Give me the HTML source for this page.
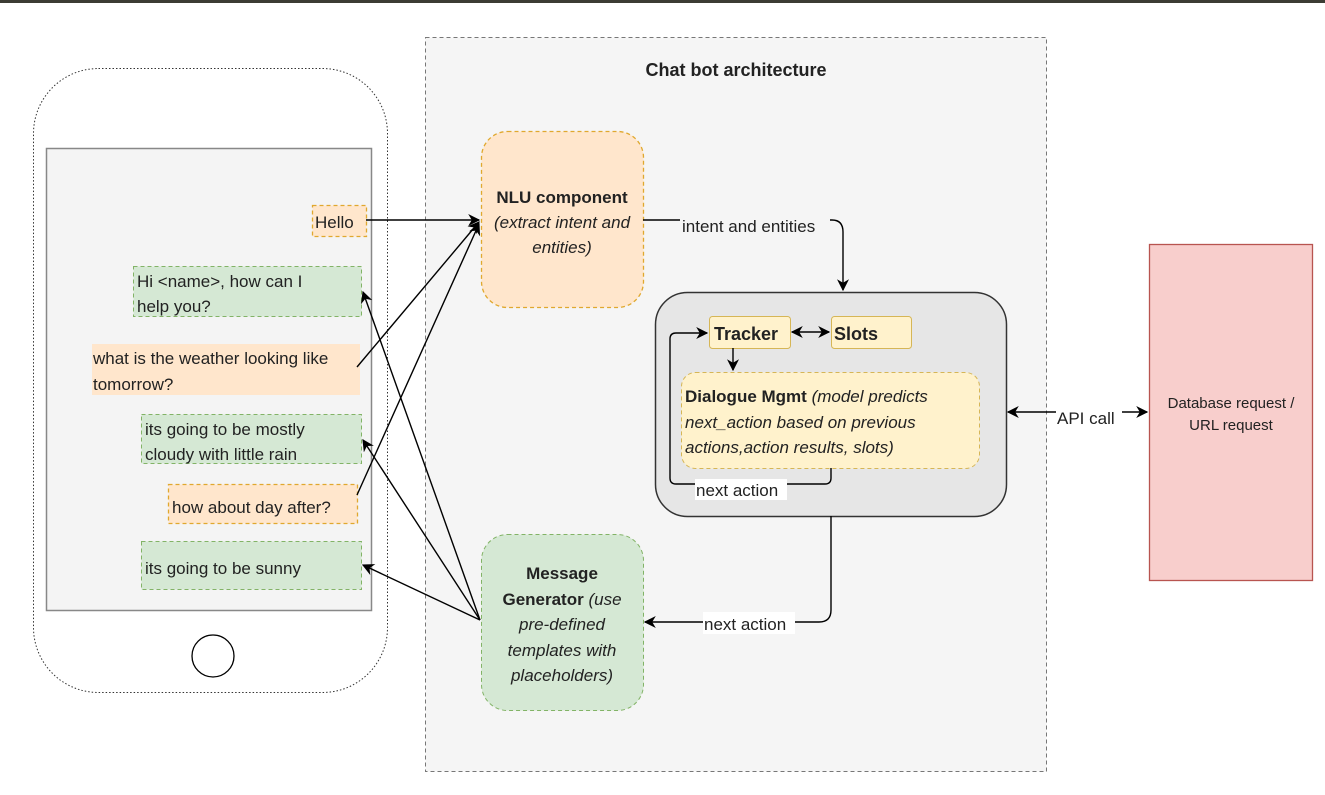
<!DOCTYPE html>
<html><head><meta charset="utf-8"><style>
html,body{margin:0;padding:0;background:#fff}
svg{display:block}
text{font-family:"Liberation Sans",sans-serif;fill:#222}
</style></head><body>
<svg width="1325" height="795" viewBox="0 0 1325 795" xmlns="http://www.w3.org/2000/svg">
<defs>
<marker id="a" viewBox="0 0 10 10" refX="9" refY="5" markerWidth="12" markerHeight="12" orient="auto-start-reverse" markerUnits="userSpaceOnUse"><path d="M0,0 L10,5 L0,10 L3,5 z" fill="#000"/></marker>
</defs>
<rect x="0" y="0" width="1325" height="3" fill="#3c3c34"/>
<rect x="425.5" y="37.5" width="621" height="734" fill="#f5f5f5" stroke="#777" stroke-dasharray="4 3"/>
<text x="736" y="76" text-anchor="middle" font-weight="bold" font-size="18">Chat bot architecture</text>
<rect x="33.5" y="68.5" width="354" height="624" rx="65" fill="#fff" stroke="#333" stroke-dasharray="1.5 2"/>
<rect x="46.5" y="148.5" width="325" height="462" fill="#f4f4f4" stroke="#888" stroke-width="1.5"/>
<circle cx="213" cy="656" r="21" fill="#fff" stroke="#000" stroke-width="1.3"/>
<rect x="312.5" y="205.5" width="54" height="31" fill="#ffe6cc" stroke="#e0a82e" stroke-dasharray="4 3" stroke-width="1.3"/>
<text x="315" y="228" font-size="17">Hello</text>
<rect x="133.5" y="266.5" width="228" height="50" fill="#d5e8d4" stroke="#82b366" stroke-dasharray="4 3"/>
<text x="137" y="287" font-size="17">Hi &lt;name&gt;,  how can I</text>
<text x="137" y="312" font-size="17">help you?</text>
<rect x="92" y="344" width="268" height="51" fill="#ffe6cc"/>
<text x="93" y="364" font-size="17">what is the weather looking like</text>
<text x="93" y="390" font-size="17">tomorrow?</text>
<rect x="141.5" y="414.5" width="220" height="49" fill="#d5e8d4" stroke="#82b366" stroke-dasharray="4 3"/>
<text x="145" y="435" font-size="17">its going to be mostly</text>
<text x="145" y="460" font-size="17">cloudy with little rain</text>
<rect x="168.5" y="484.5" width="189" height="39" fill="#ffe6cc" stroke="#e0a82e" stroke-dasharray="4 3" stroke-width="1.3"/>
<text x="172" y="513" font-size="17">how about day after?</text>
<rect x="141.5" y="541.5" width="220" height="48" fill="#d5e8d4" stroke="#82b366" stroke-dasharray="4 3"/>
<text x="145" y="574" font-size="17">its going to be sunny</text>
<rect x="481.5" y="131.5" width="162" height="176" rx="26" fill="#ffe6cc" stroke="#e0a82e" stroke-dasharray="4 3" stroke-width="1.3"/>
<text x="562" y="203" text-anchor="middle" font-size="17" font-weight="bold">NLU component</text>
<text x="562" y="228" text-anchor="middle" font-size="17" font-style="italic">(extract intent and</text>
<text x="562" y="253" text-anchor="middle" font-size="17" font-style="italic">entities)</text>
<rect x="481.5" y="534.5" width="162" height="176" rx="26" fill="#d5e8d4" stroke="#82b366" stroke-dasharray="4 3"/>
<text x="562" y="579" text-anchor="middle" font-size="17" font-weight="bold">Message</text>
<text x="562" y="605" text-anchor="middle" font-size="17"><tspan font-weight="bold">Generator</tspan> <tspan font-style="italic">(use</tspan></text>
<text x="562" y="630" text-anchor="middle" font-size="17" font-style="italic">pre-defined</text>
<text x="562" y="656" text-anchor="middle" font-size="17" font-style="italic">templates with</text>
<text x="562" y="681" text-anchor="middle" font-size="17" font-style="italic">placeholders)</text>
<rect x="655.5" y="292.5" width="351" height="224" rx="32" fill="#e6e6e6" stroke="#333" stroke-width="1.5"/>
<rect x="709.5" y="316.5" width="81" height="32" rx="3" fill="#fff2cc" stroke="#d6b656"/>
<text x="714" y="340" font-size="18" font-weight="bold">Tracker</text>
<rect x="831.5" y="316.5" width="80" height="32" rx="3" fill="#fff2cc" stroke="#d6b656"/>
<text x="834" y="340" font-size="18" font-weight="bold">Slots</text>
<rect x="681.5" y="372.5" width="298" height="96" rx="14" fill="#fff2cc" stroke="#d6b656" stroke-dasharray="4 3"/>
<text x="685" y="402" font-size="17"><tspan font-weight="bold">Dialogue Mgmt</tspan> <tspan font-style="italic">(model predicts</tspan></text>
<text x="685" y="428" font-size="17" font-style="italic">next_action based on previous</text>
<text x="685" y="453" font-size="17" font-style="italic">actions,action results, slots)</text>
<rect x="1149.5" y="244.5" width="163" height="336" fill="#f8cecc" stroke="#b85450" stroke-width="1.3"/>
<text x="1231" y="408" text-anchor="middle" font-size="15" fill="#333">Database request /</text>
<text x="1231" y="430" text-anchor="middle" font-size="15" fill="#333">URL request</text>
<g stroke="#000" stroke-width="1.4" fill="none">
<line x1="366" y1="220" x2="479" y2="220" marker-end="url(#a)"/>
<line x1="357" y1="367" x2="479" y2="222" marker-end="url(#a)"/>
<line x1="357" y1="495" x2="479" y2="224" marker-end="url(#a)"/>
<line x1="480" y1="620" x2="363" y2="292" marker-end="url(#a)"/>
<line x1="480" y1="620" x2="363" y2="440" marker-end="url(#a)"/>
<line x1="480" y1="620" x2="363" y2="565" marker-end="url(#a)"/>
<path d="M643,220 H832 Q843,220 843,232 V290" marker-end="url(#a)"/>
<path d="M831,516 V610 Q831,622 819,622 H645" marker-end="url(#a)"/>
<path d="M831,468 V478 Q831,484 825,484 H676 Q670,484 670,478 V339 Q670,333 676,333 H707" marker-end="url(#a)"/>
<line x1="733" y1="348" x2="733" y2="370" marker-end="url(#a)"/>
<line x1="792" y1="332" x2="829" y2="332" marker-start="url(#a)" marker-end="url(#a)"/>
<line x1="1008" y1="412" x2="1147" y2="412" marker-start="url(#a)" marker-end="url(#a)"/>
</g>
<rect x="680" y="214" width="150" height="22" fill="#f5f5f5"/>
<text x="682" y="232" font-size="17">intent and entities</text>
<rect x="695" y="479" width="92" height="21" fill="#fff"/>
<text x="696" y="496" font-size="17">next action</text>
<rect x="703" y="612" width="92" height="22" fill="#fff"/>
<text x="704" y="630" font-size="17">next action</text>
<rect x="1056" y="405" width="66" height="22" fill="#fff"/>
<text x="1057" y="424" font-size="17">API call</text>
</svg>
</body></html>
